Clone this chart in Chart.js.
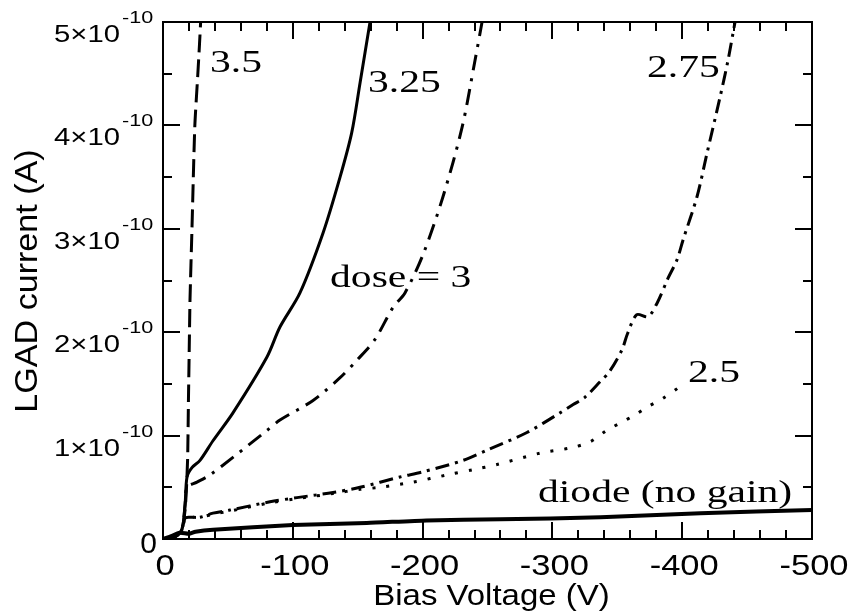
<!DOCTYPE html>
<html>
<head>
<meta charset="utf-8">
<script src="https://cdn.jsdelivr.net/npm/chart.js@4/dist/chart.umd.min.js"></script>
<style>
  html, body { margin: 0; padding: 0; background: #fff; }
  canvas { display: block; }
</style>
</head>
<body>
<canvas id="ivChart" width="849" height="612"></canvas>
<script>
// Bias voltage (V) and LGAD current (units of 1e-10 A)
const v35 = [0, -9, -14.5, -17, -18, -19, -19.6, -20.2, -20.8, -22.3, -24.5, -26.8, -28.1, -29]
const i35 = [0, 0.02, 0.09, 0.28, 0.47, 0.79, 1.34, 1.83, 2.31, 2.99, 3.99, 4.49, 4.78, 5.0]

const v325 = [0, -9, -14.5, -17, -18.5, -22.3, -28.5, -38.5, -53.9, -80.1, -90.1, -105.5, -123.3, -136.4, -145.4, -151.8, -159.5]
const i325 = [0, 0.02, 0.09, 0.33, 0.60, 0.69, 0.76, 0.95, 1.22, 1.76, 2.05, 2.38, 2.96, 3.50, 3.93, 4.41, 5.0]

const v3 = [0, -9, -14.5, -17, -18.5, -26.2, -36.2, -53.9, -80.1, -90.1, -115.6, -136.4, -149.5, -163.3, -177.2, -186.4, -200.3, -215.7, -230.4, -240.4, -245.8]
const i3 = [0, 0.02, 0.09, 0.33, 0.5, 0.55, 0.62, 0.79, 1.05, 1.15, 1.34, 1.56, 1.73, 1.93, 2.24, 2.38, 2.75, 3.31, 3.98, 4.63, 5.0]

const v275 = [0, -9, -14.5, -17, -20, -28.5, -38.5, -51.6, -82.4, -103.2, -131, -151.8, -182.6, -200.3, -231.1, -249.6, -280.4, -305.9, -316, -325, -336.7, -344, -353.6, -358, -365, -373.7, -381, -389, -396, -400.6, -411.4, -419.1, -429.1, -435.3, -440.7]
const i275 = [0, 0.02, 0.09, 0.2, 0.21, 0.21, 0.25, 0.28, 0.36, 0.40, 0.45, 0.50, 0.60, 0.65, 0.76, 0.86, 1.03, 1.22, 1.30, 1.37, 1.52, 1.62, 1.83, 1.99, 2.17, 2.15, 2.29, 2.52, 2.70, 2.89, 3.31, 3.73, 4.27, 4.63, 5.0]

const v25 = [0, -9, -14.5, -17, -20, -28.5, -38.5, -51.6, -82.4, -103.2, -131, -151.8, -167.2, -192.6, -218.8, -238.8, -257.3, -290.4, -313.6, -329, -341.8, -352, -363.6, -373.7, -385.2, -396.8]
const i25 = [0, 0.02, 0.09, 0.2, 0.21, 0.21, 0.24, 0.27, 0.35, 0.39, 0.44, 0.48, 0.50, 0.55, 0.62, 0.67, 0.72, 0.83, 0.88, 0.94, 1.05, 1.12, 1.20, 1.28, 1.36, 1.46]

const vDiode = [0, -5, -13, -20, -25, -38.5, -100, -157, -203, -260, -337, -414, -500]
const iDiode = [0, 0.02, 0.06, 0.05, 0.07, 0.09, 0.135, 0.155, 0.18, 0.19, 0.21, 0.25, 0.28]

// axis ticks
const xTickValues = [0, -100, -200, -300, -400, -500]
const xTickLabels = ['0', '-100', '-200', '-300', '-400', '-500']
const yTickValues = [0, 1, 2, 3, 4, 5]
const yTickMantissa = ['0', '1', '2', '3', '4', '5']
const yTickExponent = '-10'

// curve labels: text and where they sit (data coords, left/baseline)
const curveLabels = ['3.5', '3.25', 'dose = 3', '2.75', '2.5', 'diode (no gain)']
const curveLabelV = [-36.2, -157.9, -128.7, -372.9, -404.5, -288.9]
const curveLabelI = [4.52, 4.32, 2.44, 4.47, 1.52, 0.36]

function pts(vs, is) {
  return vs.map((v, k) => ({ x: v, y: is[k] }))
}

function stretchText(ctx, txt, x, y, sx, align) {
  ctx.save()
  ctx.translate(x, y)
  ctx.scale(sx, 1)
  ctx.textAlign = align
  ctx.fillText(txt, 0, 0)
  ctx.restore()
}

// frame, inward ticks and all the text
const decor = {
  id: 'decor',
  afterDatasetsDraw(chart) {
    const { ctx, chartArea: a, scales: { x, y } } = chart
    ctx.save()
    ctx.strokeStyle = '#000'
    ctx.fillStyle = '#000'
    ctx.lineWidth = 2
    ctx.strokeRect(a.left, a.top, a.right - a.left, a.bottom - a.top)

    ctx.beginPath()
    for (let v = 0; v >= -500; v -= 20) {
      const px = Math.round(x.getPixelForValue(v))
      const len = v % 100 === 0 ? 17 : 9
      ctx.moveTo(px, a.bottom); ctx.lineTo(px, a.bottom - len)
      ctx.moveTo(px, a.top); ctx.lineTo(px, a.top + len)
    }
    for (let k = 0; k <= 10; k++) {
      const py = Math.round(y.getPixelForValue(k / 2))
      const len = k % 2 === 0 ? 17 : 9
      ctx.moveTo(a.left, py); ctx.lineTo(a.left + len, py)
      ctx.moveTo(a.right, py); ctx.lineTo(a.right - len, py)
    }
    ctx.stroke()

    // x tick labels
    ctx.textBaseline = 'alphabetic'
    ctx.font = '30px "Liberation Sans", Arial, sans-serif'
    xTickValues.forEach((v, k) => {
      stretchText(ctx, xTickLabels[k], x.getPixelForValue(v) + 2, a.bottom + 36, 1.15, 'center')
    })

    // y tick labels, n×10^-10
    yTickValues.forEach((v, k) => {
      const py = y.getPixelForValue(v)
      if (v === 0) {
        ctx.font = '30px "Liberation Sans", Arial, sans-serif'
        stretchText(ctx, yTickMantissa[k], a.left - 6, py + 14, 1.0, 'right')
        return
      }
      ctx.font = '24px "Liberation Sans", Arial, sans-serif'
      stretchText(ctx, yTickMantissa[k] + '\u00d710', a.left - 43, py + 20, 1.22, 'right')
      ctx.font = '16px "Liberation Sans", Arial, sans-serif'
      stretchText(ctx, yTickExponent, a.left - 41, py + 1, 1.35, 'left')
    })

    // axis titles
    ctx.font = '30px "Liberation Sans", Arial, sans-serif'
    stretchText(ctx, 'Bias Voltage (V)', (a.left + a.right) / 2 + 4, 605, 1.1, 'center')
    ctx.save()
    ctx.translate(37, 281)
    ctx.rotate(-Math.PI / 2)
    ctx.font = '31px "Liberation Sans", Arial, sans-serif'
    stretchText(ctx, 'LGAD current (A)', 0, 0, 1.1, 'center')
    ctx.restore()

    // curve labels
    ctx.font = '32px "Liberation Serif", "Times New Roman", serif'
    curveLabels.forEach((t, k) => {
      stretchText(ctx, t, x.getPixelForValue(curveLabelV[k]), y.getPixelForValue(curveLabelI[k]), 1.3, 'left')
    })
    ctx.restore()
  }
}

function series(vs, is, dash, width, tension) {
  return {
    data: pts(vs, is),
    borderColor: '#000',
    borderWidth: width,
    borderDash: dash,
    borderCapStyle: 'butt',
    showLine: true,
    pointRadius: 0,
    fill: false,
    tension: tension
  }
}

new Chart(document.getElementById('ivChart'), {
  type: 'scatter',
  data: {
    datasets: [
      series(vDiode, iDiode, [], 4, 0.2),
      series(v25, i25, [3, 11], 3, 0.3),
      series(v275, i275, [14, 6, 3, 6], 3, 0.3),
      series(v3, i3, [16, 8, 3, 8], 3, 0.3),
      series(v325, i325, [], 3, 0.3),
      series(v35, i35, [18, 7], 3, 0.2)
    ]
  },
  options: {
    responsive: false,
    animation: false,
    devicePixelRatio: 1,
    layout: { padding: { left: 163, top: 22, right: 37, bottom: 73 } },
    plugins: { legend: { display: false }, tooltip: { enabled: false } },
    scales: {
      x: { type: 'linear', min: -500, max: 0, reverse: true, display: false },
      y: { type: 'linear', min: 0, max: 5, display: false }
    }
  },
  plugins: [decor]
})
</script>
</body>
</html>
